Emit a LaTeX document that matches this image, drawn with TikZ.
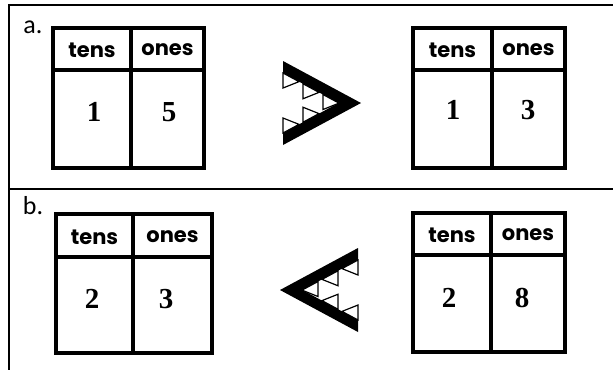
\documentclass[tikz,border=0pt]{standalone}
\usepackage{fontspec}
\setmainfont{Liberation Serif}
\newfontfamily\hdrfont{Poppins}
\newfontfamily\lblfont{Carlito}
\begin{document}
\begin{tikzpicture}[x=1pt,y=-1pt,
  frame/.style={line width=1.5pt},
  tblout/.style={line width=4.5pt,line join=miter},
  tblin/.style={line width=3.5pt},
  hdr/.style={inner sep=0pt,font=\hdrfont\bfseries\fontsize{21}{21}\selectfont},
  num/.style={inner sep=0pt,font=\bfseries\fontsize{29}{29}\selectfont},
  lbl/.style={inner sep=0pt,font=\lblfont\fontsize{26}{26}\selectfont},
  jaw/.style={fill=black},
  tooth/.style={fill=white,draw=black,line width=1.2pt,line join=miter}]
\useasboundingbox (0,0) rectangle (613,370);
% outer frame
\draw[frame] (613,5) -- (9,5) -- (9,370);
\draw[frame] (9,189) -- (613,189);
\node[lbl] (la) at (33,27) {a.};
\node[lbl] (lb) at (33,206) {b.};
% table a left
\draw[tblin] (53,70) -- (204,70);
\draw[tblin] (131,28) -- (131,168);
\draw[tblout] (53,28) rectangle (204,168);
\node[hdr] (a1t) at (92,50) {tens};
\node[hdr] (a1o) at (167.5,50) {ones};
\node[num] (a1n) at (94,112) {1};
\node[num] (a1m) at (169,112) {5};
% table a right
\draw[tblin] (413,70) -- (565,70);
\draw[tblin] (492,28) -- (492,168);
\draw[tblout] (413,28) rectangle (565,168);
\node[hdr] (a2t) at (452.5,50) {tens};
\node[hdr] (a2o) at (528.5,50) {ones};
\node[num] (a2n) at (453,110) {1};
\node[num] (a2m) at (528,110) {3};
% table b left
\draw[tblin] (56,257) -- (212,257);
\draw[tblin] (133,214) -- (133,353);
\draw[tblout] (56,214) rectangle (212,353);
\node[hdr] (b1t) at (94.5,237) {tens};
\node[hdr] (b1o) at (172.5,237) {ones};
\node[num] (b1n) at (92,299) {2};
\node[num] (b1m) at (166,299) {3};
% table b right
\draw[tblin] (413,255) -- (565,255);
\draw[tblin] (491,213) -- (491,352);
\draw[tblout] (413,213) rectangle (565,352);
\node[hdr] (b2t) at (452,235) {tens};
\node[hdr] (b2o) at (528,235) {ones};
\node[num] (b2n) at (449,298) {2};
\node[num] (b2m) at (522,298) {8};
% greater-than symbol
\begin{scope}[shift={(283,103)}]
  \fill[jaw] (0,-42) -- (78,0) -- (0,42) -- (0,30) -- (55.7,0) -- (0,-30) -- cycle;
  \foreach \t in {0,20,40}{
    \draw[tooth] (\t,{-30+0.538*\t}) -- (\t,{-15+0.538*\t}) -- ({\t+16},{-30+0.538*(\t+16)}) -- cycle;}
  \foreach \t in {0,20}{
    \draw[tooth] (\t,{30-0.538*\t}) -- (\t,{15-0.538*\t}) -- ({\t+16},{30-0.538*(\t+16)}) -- cycle;}
\end{scope}
% less-than symbol
\begin{scope}[shift={(358,290)},xscale=-1]
  \fill[jaw] (0,-42) -- (78,0) -- (0,42) -- (0,30) -- (55.7,0) -- (0,-30) -- cycle;
  \foreach \t in {0,20,40}{
    \draw[tooth] (\t,{-30+0.538*\t}) -- (\t,{-15+0.538*\t}) -- ({\t+16},{-30+0.538*(\t+16)}) -- cycle;}
  \foreach \t in {0,20}{
    \draw[tooth] (\t,{30-0.538*\t}) -- (\t,{15-0.538*\t}) -- ({\t+16},{30-0.538*(\t+16)}) -- cycle;}
\end{scope}
\end{tikzpicture}
\end{document}
